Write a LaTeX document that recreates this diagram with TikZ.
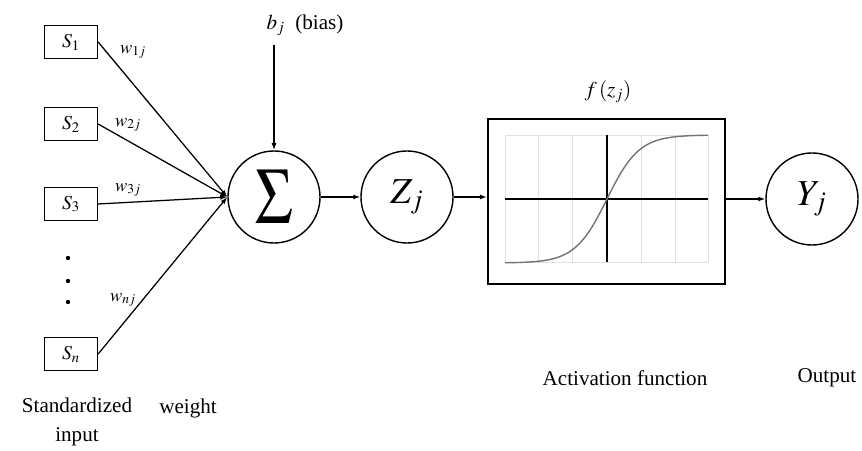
\documentclass[tikz,border=0pt]{standalone}
\usepackage{mathptmx}
\usepackage{fontspec}
\setmainfont{Liberation Serif}
\usepackage{graphicx}
\usetikzlibrary{arrows.meta,positioning,calc}

\tikzset{
  inbox/.style={draw, line width=0.9pt, minimum width=1.325cm, minimum height=0.825cm, inner sep=0pt, font=\fontsize{14}{16}\selectfont},
  unit/.style={draw, circle, line width=1pt, minimum size=2.3cm, inner sep=0pt, font=\fontsize{26}{30}\selectfont},
  conn/.style={-{Latex[length=5pt,width=3.5pt]}, line width=0.9pt},
  wlabel/.style={font=\fontsize{13}{15}\selectfont, inner sep=1pt},
  caption/.style={font=\fontsize{15}{20.5}\selectfont, align=center, inner sep=1pt}
}

\begin{document}
\begin{tikzpicture}[x=0.025cm, y=-0.025cm]
  \useasboundingbox (0,0) rectangle (862,451);

  % inputs
  \node[inbox] (s1) at (71,42)  {$S_1$};
  \node[inbox] (s2) at (71,124) {$S_2$};
  \node[inbox] (s3) at (71,204) {$S_3$};
  \node[inbox] (sn) at (71,354) {$S_n$};
  \foreach \y in {258,281,302}
    \fill (68,\y) circle (2.2);

  % neuron
  \node[unit] (sum) at (274,197) {\resizebox{0.93cm}{1.33cm}{$\Sigma$}};
  \node[unit] (zj)  at (407,197) {$Z_j$};
  \node[unit] (yj)  at (812,199) {$Y_j$};

  % weights
  \draw[conn] (s1.east) -- (sum.west);
  \draw[conn] (s2.east) -- (sum.west);
  \draw[conn] (s3.east) -- (sum.west);
  \draw[conn] (sn.east) -- (sum.west);
  \node[wlabel] (w1) at (133,52)  {$w_{1j}$};
  \node[wlabel] (w2) at (128,125) {$w_{2j}$};
  \node[wlabel] (w3) at (128,190) {$w_{3j}$};
  \node[wlabel] (wn) at (123,300) {$w_{nj}$};

  % bias
  \node[caption] (bias) at (305,25) {$b_j$\ \ (bias)};
  \coordinate (bin) at (274,45);
  \draw[conn] (bin) -- (sum.north);

  % activation
  \node[draw, line width=1.4pt, minimum width=5.925cm, minimum height=4.125cm] (act) at (606.5,201.5) {};
  \draw[black!12, line width=0.6pt] (505,135) rectangle (708,262);
  \foreach \x in {538,572,641,675}
    \draw[black!12, line width=0.6pt] (\x,135) -- (\x,262);
  \draw[line width=0.8pt] (505,199) -- (708,199);
  \draw[line width=0.8pt] (607,135) -- (607,262);
  \draw[black!55, line width=1pt] plot[domain=505:708, samples=80, smooth] (\x, {199-64*tanh((\x-607)/32)});
  \node[caption] (fz) at (608,92) {$f\,(z_j)$};

  \draw[conn] (sum.east) -- (zj.west);
  \draw[conn] (zj.east) -- (zj.east -| act.west);
  \draw[conn] (act.east |- yj.west) -- (yj.west);

  % captions
  \node[caption] (inlab)  at (77,422)  {Standardized\\input};
  \node[caption] (wlab)   at (188,408) {weight};
  \node[caption] (actlab) at (625,378) {Activation function};
  \node[caption] (outlab) at (827,378) {Output};
\end{tikzpicture}
\end{document}
